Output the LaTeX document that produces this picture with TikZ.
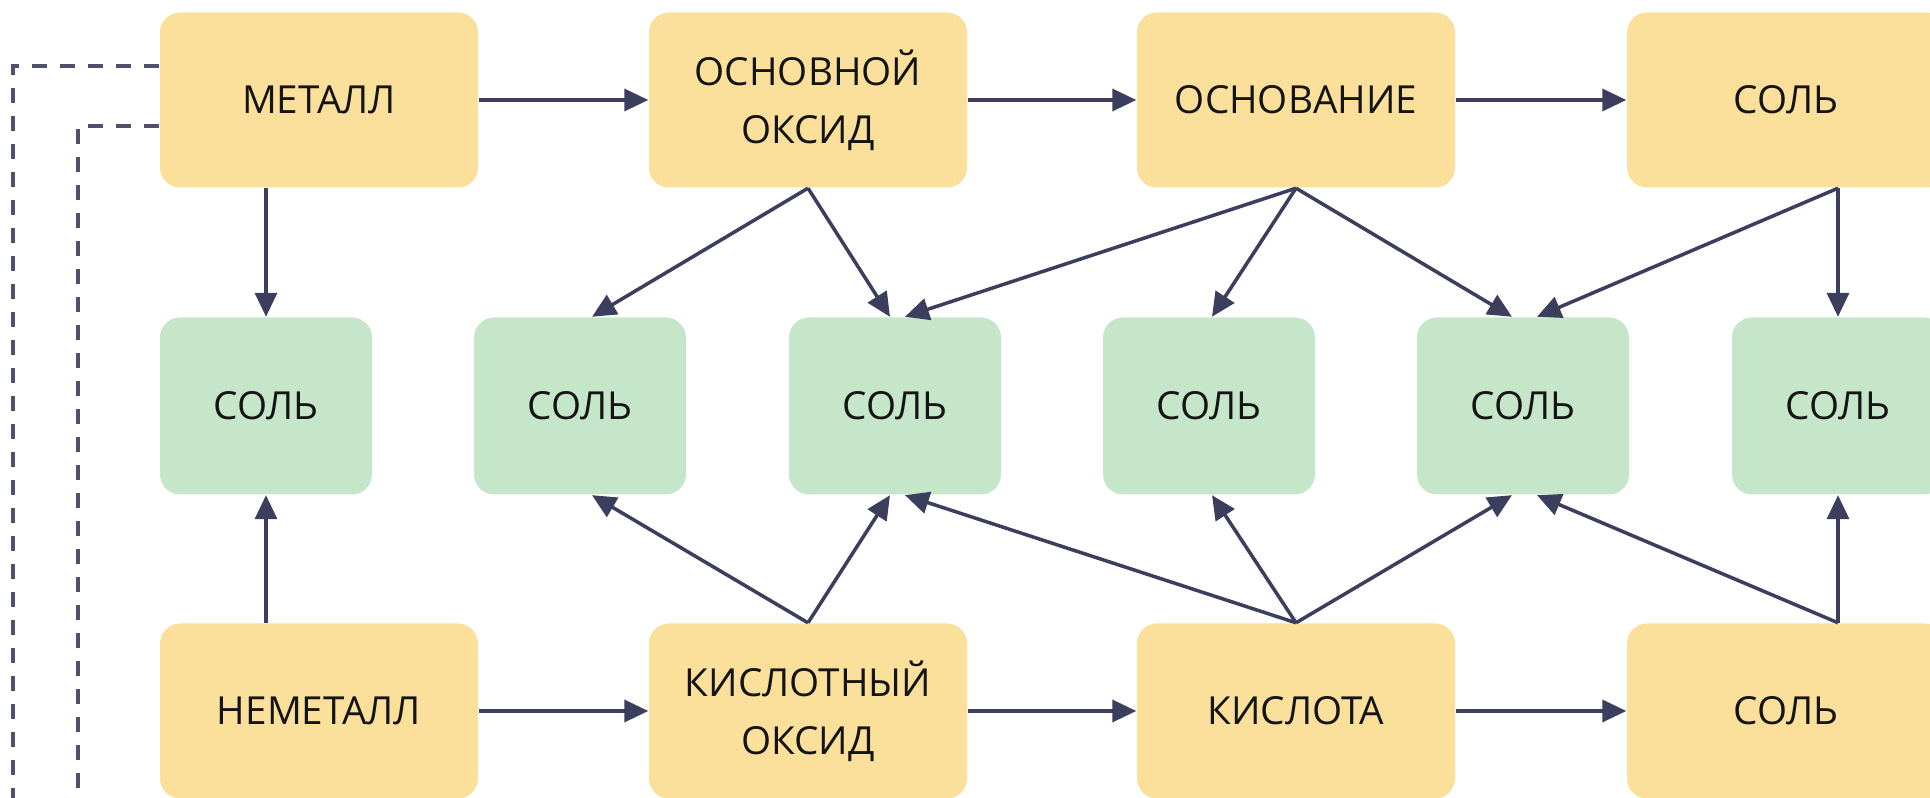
\documentclass[tikz,border=0pt]{standalone}
\usepackage{fontspec}
\setmainfont{Open Sans}
\usetikzlibrary{arrows.meta}

\definecolor{boxyellow}{HTML}{FBE09B}
\definecolor{boxgreen}{HTML}{C6E6CA}
\definecolor{linkgray}{HTML}{3B3E5C}

\tikzset{
    yellowbox/.style={fill=boxyellow, rounded corners=0.2cm, minimum width=3.18cm,
        minimum height=1.75cm, inner sep=0pt, align=center, text=black!92,
        font=\fontsize{11}{16.5}\selectfont},
    greenbox/.style={yellowbox, fill=boxgreen, minimum width=2.12cm, minimum height=1.77cm},
    link/.style={-{Triangle[length=0.24cm,width=0.22cm]}, line width=1pt, linkgray},
    dashlink/.style={dash pattern=on 0.15cm off 0.13cm, line width=1.1pt, linkgray!90}
}

\begin{document}
\begin{tikzpicture}
    \useasboundingbox (0,0) rectangle (19.3,-7.98);

    % top row
    \node[yellowbox] (metal) at (3.19,-1.00) {МЕТАЛЛ};
    \node[yellowbox] (basox) at (8.08,-1.00) {ОСНОВНОЙ\\ОКСИД};
    \node[yellowbox] (base)  at (12.96,-1.00) {ОСНОВАНИЕ};
    \node[yellowbox] (salta) at (17.86,-1.00) {СОЛЬ};

    % salts
    \node[greenbox] (s1) at (2.66,-4.06) {СОЛЬ};
    \node[greenbox] (s2) at (5.80,-4.06) {СОЛЬ};
    \node[greenbox] (s3) at (8.95,-4.06) {СОЛЬ};
    \node[greenbox] (s4) at (12.09,-4.06) {СОЛЬ};
    \node[greenbox] (s5) at (15.23,-4.06) {СОЛЬ};
    \node[greenbox] (s6) at (18.38,-4.06) {СОЛЬ};

    % bottom row
    \node[yellowbox] (nonmetal) at (3.19,-7.11) {НЕМЕТАЛЛ};
    \node[yellowbox] (acidox)   at (8.08,-7.11) {КИСЛОТНЫЙ\\ОКСИД};
    \node[yellowbox] (acid)     at (12.96,-7.11) {КИСЛОТА};
    \node[yellowbox] (saltb)    at (17.86,-7.11) {СОЛЬ};

    \coordinate (outerend) at (0.13,-7.98);
    \coordinate (innerend) at (0.78,-7.98);

    \draw[link] (metal) -- (basox);
    \draw[link] (basox) -- (base);
    \draw[link] (base) -- (salta);
    \draw[link] (nonmetal) -- (acidox);
    \draw[link] (acidox) -- (acid);
    \draw[link] (acid) -- (saltb);

    \draw[link] (s1.north |- metal.south) -- (s1.north);
    \draw[link] (basox.south) -- ([xshift=0.12cm]s2.north);
    \draw[link] (basox.south) -- ([xshift=-0.05cm]s3.north);
    \draw[link] (base.south) -- ([xshift=0.10cm]s3.north);
    \draw[link] (base.south) -- ([xshift=0.03cm]s4.north);
    \draw[link] (base.south) -- ([xshift=-0.11cm]s5.north);
    \draw[link] (s6.north |- salta.south) -- ([xshift=0.14cm]s5.north);
    \draw[link] (s6.north |- salta.south) -- (s6.north);

    \draw[link] (s1.south |- nonmetal.north) -- (s1.south);
    \draw[link] (acidox.north) -- ([xshift=0.12cm]s2.south);
    \draw[link] (acidox.north) -- ([xshift=-0.05cm]s3.south);
    \draw[link] (acid.north) -- ([xshift=0.10cm]s3.south);
    \draw[link] (acid.north) -- ([xshift=0.03cm]s4.south);
    \draw[link] (acid.north) -- ([xshift=-0.11cm]s5.south);
    \draw[link] (s6.south |- saltb.north) -- ([xshift=0.14cm]s5.south);
    \draw[link] (s6.south |- saltb.north) -- (s6.south);

    % dashed returns
    \draw[dashlink] ([yshift=0.34cm]metal.west) -| (outerend);
    \draw[dashlink] ([yshift=-0.26cm]metal.west) -| (innerend);
\end{tikzpicture}
\end{document}
